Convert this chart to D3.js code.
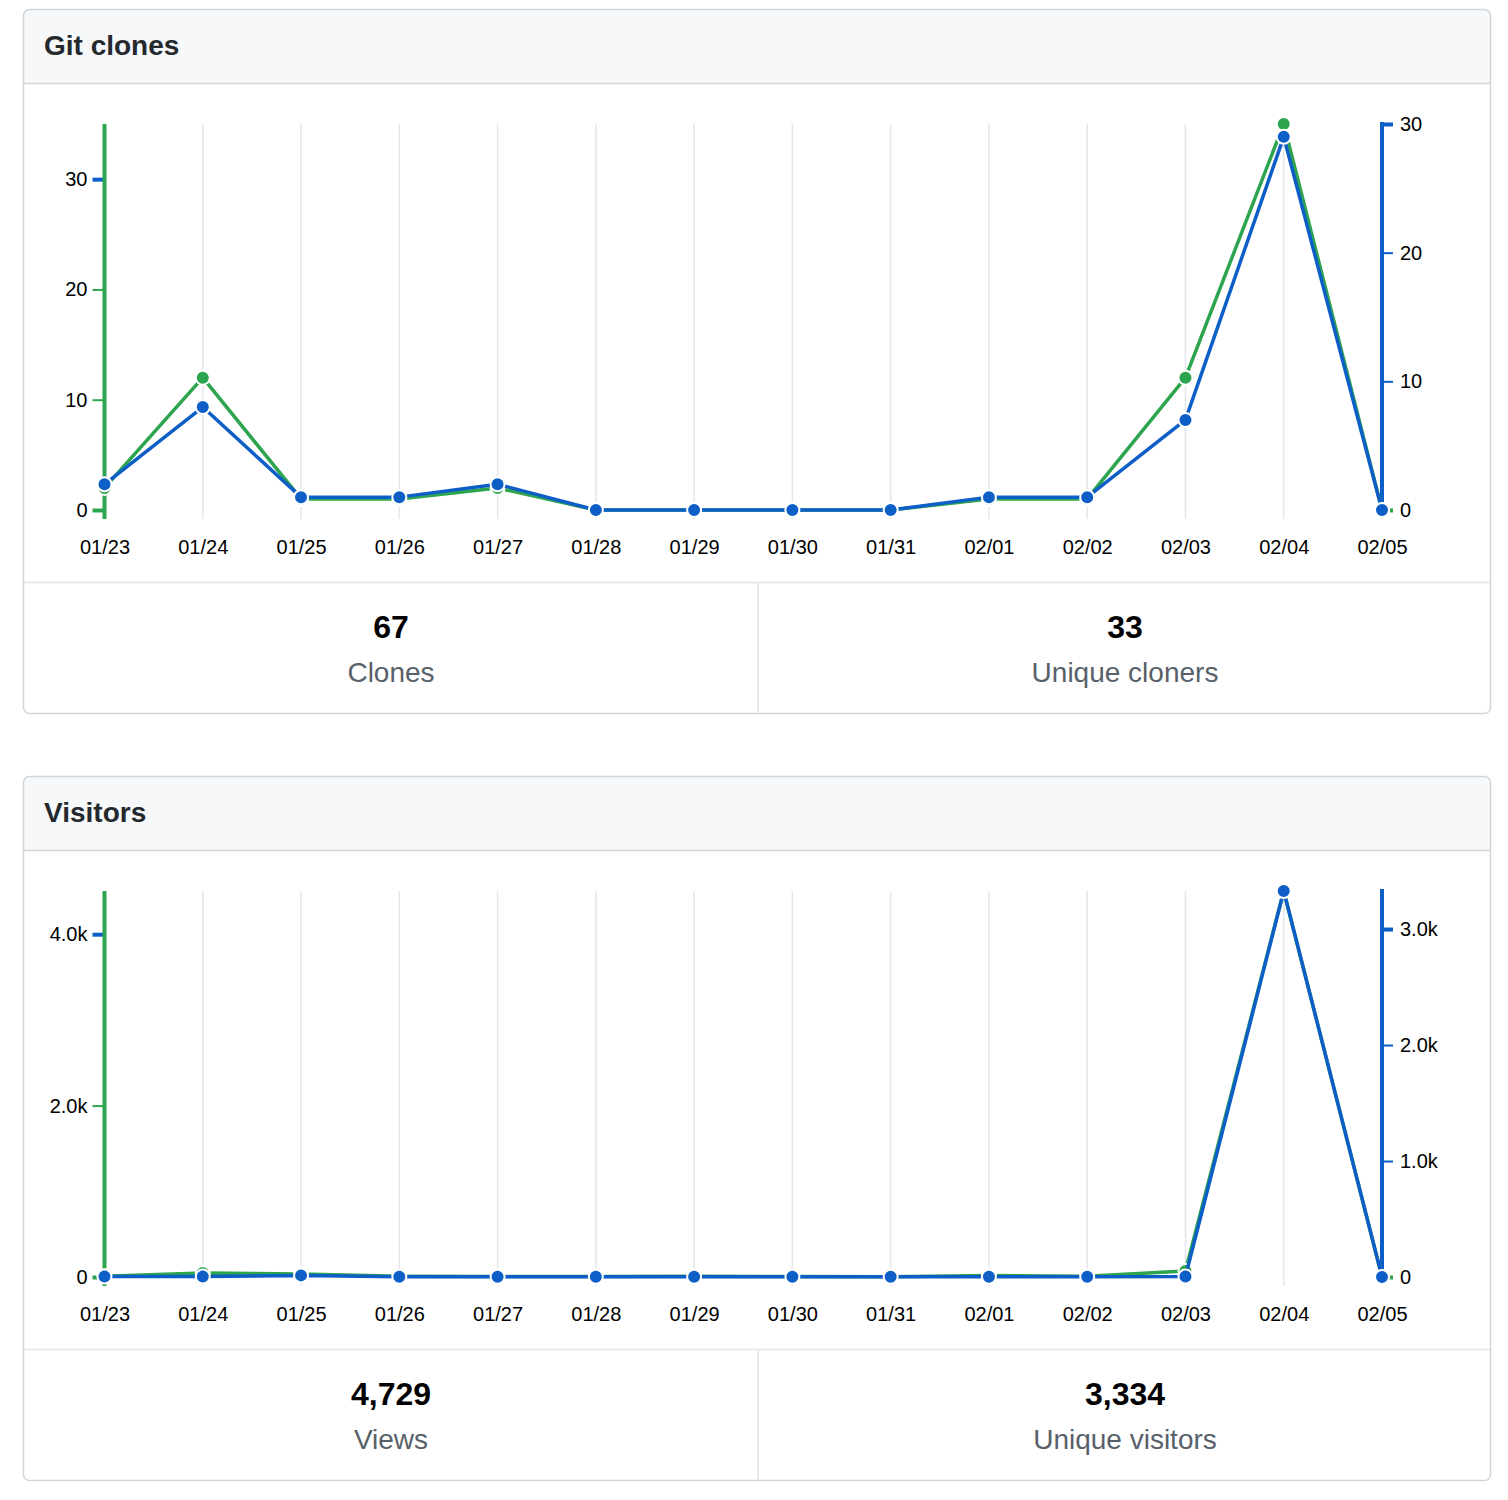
<!DOCTYPE html>
<html>
<head>
<meta charset="utf-8">
<script src="https://cdn.jsdelivr.net/npm/d3@7"></script>
<style>
  body { margin: 0; background: #fff; }
  text { font-family: "Liberation Sans", Arial, Helvetica, sans-serif; }
</style>
</head>
<body>
<svg id="canvas" width="1508" height="1500"></svg>
<script>
// data
var dates = ['01/23','01/24','01/25','01/26','01/27','01/28','01/29','01/30','01/31','02/01','02/02','02/03','02/04','02/05'];
var clones = [2, 12, 1, 1, 2, 0, 0, 0, 0, 1, 1, 12, 35, 0];
var uniqueCloners = [2, 8, 1, 1, 2, 0, 0, 0, 0, 1, 1, 7, 29, 0];
var views = [8, 47, 35, 10, 5, 5, 8, 6, 3, 18, 10, 70, 4504, 0];
var uniqueVisitors = [4, 4, 14, 3, 3, 3, 3, 3, 3, 3, 3, 4, 3328, 0];

var clonesLeftTicks = [0, 10, 20, 30];
var clonesRightTicks = [0, 10, 20, 30];
var visitorsLeftTicks = [0, 2000, 4000];
var visitorsRightTicks = [0, 1000, 2000, 3000];

var clonesTotals = ['67', '33'];
var clonesLabels = ['Clones', 'Unique cloners'];
var visitorsTotals = ['4,729', '3,334'];
var visitorsLabels = ['Views', 'Unique visitors'];

var GREEN = '#2da44e';
var BLUE = '#0d5ec7';

var app = {
  init: function() {
    app.svg = d3.select('#canvas');
    var defs = app.svg.append('defs');

    app.panel(9, 'Git clones', {
      left: clones, right: uniqueCloners,
      leftMax: 35, rightMax: 30,
      leftTicks: clonesLeftTicks, rightTicks: clonesRightTicks,
      fmt: d3.format('d'),
      totals: clonesTotals, labels: clonesLabels
    }, defs, 'c1');

    app.panel(776, 'Visitors', {
      left: views, right: uniqueVisitors,
      leftMax: d3.max(views), rightMax: d3.max(uniqueVisitors),
      leftTicks: visitorsLeftTicks, rightTicks: visitorsRightTicks,
      fmt: function(d) { return d === 0 ? '0' : d3.format('.1f')(d / 1000) + 'k'; },
      totals: visitorsTotals, labels: visitorsLabels
    }, defs, 'c2');
  },

  panel: function(top, title, cfg, defs, id) {
    var W = 1467, H = 704;
    var g = app.svg.append('g').attr('transform', 'translate(23.5,' + (top + 0.5) + ')');

    defs.append('clipPath').attr('id', id)
      .append('rect').attr('width', W).attr('height', H).attr('rx', 6);

    var box = g.append('g').attr('clip-path', 'url(#' + id + ')');
    box.append('rect').attr('width', W).attr('height', H).attr('fill', '#fff');
    box.append('rect').attr('width', W).attr('height', 74).attr('fill', '#f6f8fa');
    box.append('line').attr('x1', 0).attr('x2', W).attr('y1', 74).attr('y2', 74)
      .attr('stroke', '#d1d5da').attr('stroke-width', 1.5);
    box.append('line').attr('x1', 0).attr('x2', W).attr('y1', 573).attr('y2', 573)
      .attr('stroke', '#e1e4e8').attr('stroke-width', 1.5);
    box.append('line').attr('x1', 734.5).attr('x2', 734.5).attr('y1', 573).attr('y2', H)
      .attr('stroke', '#e1e4e8').attr('stroke-width', 1.5);

    g.append('rect').attr('width', W).attr('height', H).attr('rx', 6)
      .attr('fill', 'none').attr('stroke', '#d1d5da').attr('stroke-width', 1.5);

    g.append('text').attr('x', 20.5).attr('y', 45)
      .attr('font-size', 28).attr('font-weight', 'bold').attr('fill', '#24292e')
      .text(title);

    // chart, in page x coordinates
    var c = g.append('g').attr('transform', 'translate(-23.5,-0.5)');
    var y0 = 501, y1 = 115;
    var x = d3.scalePoint().domain(dates).range([104.5, 1382]);
    var yL = d3.scaleLinear().domain([0, cfg.leftMax]).range([y0, y1]);
    var yR = d3.scaleLinear().domain([0, cfg.rightMax]).range([y0, y1]);

    // gridlines
    c.append('g').selectAll('line').data(dates.slice(1, -1)).enter()
      .append('line')
      .attr('x1', function(d) { return x(d); }).attr('x2', function(d) { return x(d); })
      .attr('y1', y1).attr('y2', y0 + 9)
      .attr('stroke', '#e4e6e9').attr('stroke-width', 1.5);

    // x axis labels
    var xa = c.append('g').attr('transform', 'translate(0,' + y0 + ')')
      .call(d3.axisBottom(x).tickSize(0).tickPadding(30));
    xa.select('.domain').remove();
    xa.selectAll('text').attr('font-size', 20).attr('fill', '#000')
      .attr('font-family', '"Liberation Sans", Arial, sans-serif');

    // left axis
    var la = c.append('g').attr('transform', 'translate(' + x(dates[0]) + ',0)')
      .call(d3.axisLeft(yL).tickValues(cfg.leftTicks).tickFormat(cfg.fmt).tickSize(12).tickPadding(5));
    la.select('.domain').remove();
    var nL = cfg.leftTicks.length;
    la.selectAll('.tick line')
      .attr('stroke', function(d, i) { return i === nL - 1 ? BLUE : GREEN; })
      .attr('stroke-width', function(d, i) { return (i === 0 || i === nL - 1) ? 4 : 2; });
    la.selectAll('text').attr('font-size', 20).attr('fill', '#000')
      .attr('font-family', '"Liberation Sans", Arial, sans-serif');
    c.append('line').attr('x1', x(dates[0])).attr('x2', x(dates[0]))
      .attr('y1', y1).attr('y2', y0 + 9)
      .attr('stroke', GREEN).attr('stroke-width', 4);

    // right axis
    var ra = c.append('g').attr('transform', 'translate(' + x(dates[dates.length - 1]) + ',0)')
      .call(d3.axisRight(yR).tickValues(cfg.rightTicks).tickFormat(cfg.fmt).tickSize(11).tickPadding(7));
    ra.select('.domain').remove();
    var nR = cfg.rightTicks.length;
    ra.selectAll('.tick line')
      .attr('stroke', function(d, i) { return i === 0 ? GREEN : BLUE; })
      .attr('stroke-width', function(d, i) { return (i === 0 || i === nR - 1) ? 4 : 2; });
    ra.selectAll('text').attr('font-size', 20).attr('fill', '#000')
      .attr('font-family', '"Liberation Sans", Arial, sans-serif');
    c.append('line').attr('x1', x(dates[dates.length - 1])).attr('x2', x(dates[dates.length - 1]))
      .attr('y1', y1 - 2).attr('y2', y0)
      .attr('stroke', BLUE).attr('stroke-width', 4);

    // series
    app.series(c, x, yL, cfg.left, GREEN);
    app.series(c, x, yR, cfg.right, BLUE);

    // totals
    var cols = [391, 1125];
    c.selectAll('.total').data(cfg.totals).enter()
      .append('text').attr('class', 'total')
      .attr('x', function(d, i) { return cols[i]; }).attr('y', 629)
      .attr('text-anchor', 'middle').attr('font-size', 32).attr('font-weight', 'bold')
      .attr('fill', '#000').text(function(d) { return d; });
    c.selectAll('.label').data(cfg.labels).enter()
      .append('text').attr('class', 'label')
      .attr('x', function(d, i) { return cols[i]; }).attr('y', 673)
      .attr('text-anchor', 'middle').attr('font-size', 28)
      .attr('fill', '#586069').text(function(d) { return d; });
  },

  series: function(c, x, y, values, color) {
    var line = d3.line()
      .x(function(d, i) { return x(dates[i]); })
      .y(function(d) { return y(d); });
    c.append('path').datum(values)
      .attr('d', line).attr('fill', 'none')
      .attr('stroke', color).attr('stroke-width', 3.5)
      .attr('stroke-linejoin', 'round');
    c.append('g').selectAll('circle').data(values).enter()
      .append('circle')
      .attr('cx', function(d, i) { return x(dates[i]); })
      .attr('cy', function(d) { return y(d); })
      .attr('r', 7)
      .attr('fill', color).attr('stroke', '#fff').attr('stroke-width', 2);
  }
};

app.init();
</script>
</body>
</html>
